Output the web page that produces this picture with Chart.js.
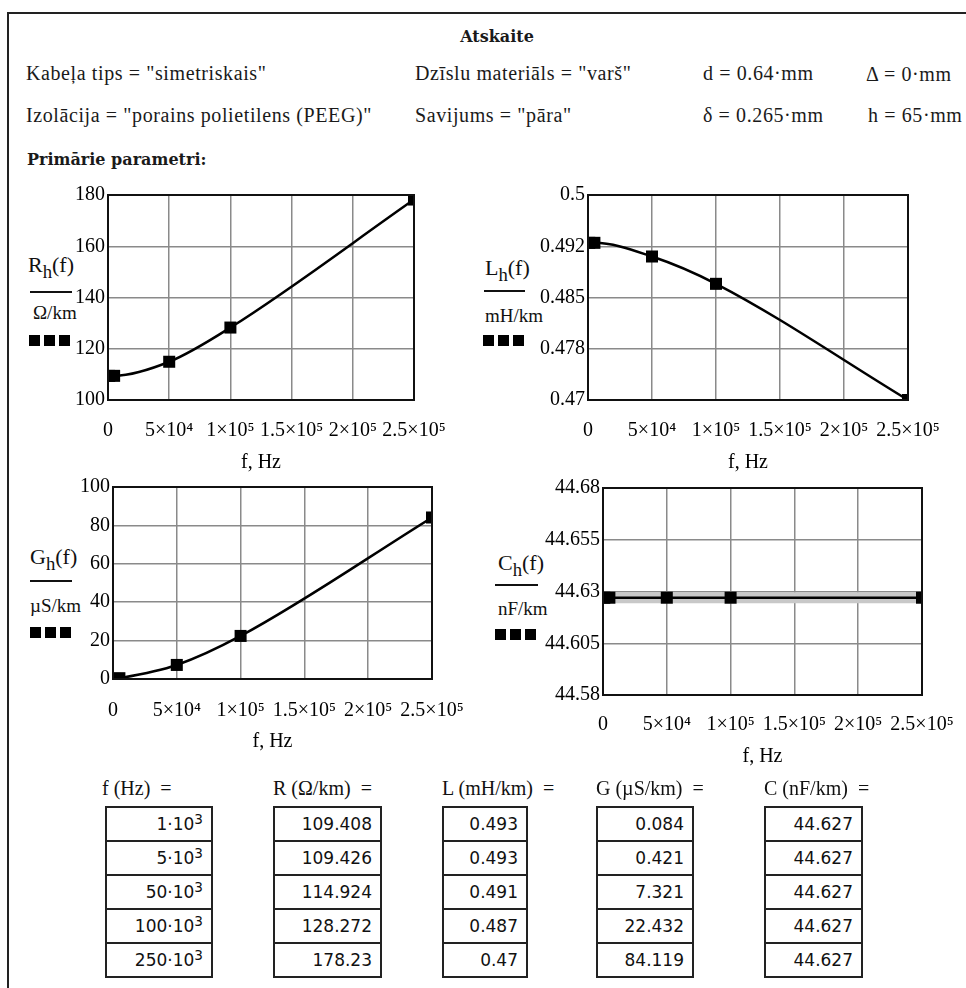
<!DOCTYPE html>
<html>
<head>
<meta charset="utf-8">
<script src="https://cdn.jsdelivr.net/npm/chart.js@4.4.1/dist/chart.umd.min.js"></script>
<style>
html, body { margin: 0; padding: 0; background: #fff; }
body { width: 966px; height: 988px; position: relative; overflow: hidden; }
.abs { position: absolute; white-space: nowrap; }
.line { position: absolute; background: #222; }
.txt { font-family: 'Liberation Serif'; font-size: 20px; letter-spacing: 0.6px; color: #1a1a1a; line-height: 1; transform: translateY(-50%); }
.bold { font-family: 'DejaVu Serif', 'Liberation Serif'; font-weight: bold; font-size: 16px; letter-spacing: 0; }
.yl { font-family: 'Liberation Serif'; font-size: 22px; color: #111; line-height: 1; transform: translateY(-50%); }
.yl sub { font-size: 0.85em; vertical-align: -0.3em; line-height: 0; }
.yu { font-family: 'Liberation Serif'; font-size: 19px; color: #111; line-height: 1; transform: translateY(-50%); }
.bar { position: absolute; height: 2px; background: #111; }
.sq { position: absolute; display: flex; gap: 4px; }
.sq i { display: block; width: 11px; height: 11px; background: #000; }
.th { font-family: 'Liberation Serif'; font-size: 20px; color: #111; line-height: 1; transform: translateY(-50%); }
.col { position: absolute; border: 2px solid #222; border-bottom: none; box-sizing: border-box; }
.cell { height: 34px; box-sizing: border-box; border-bottom: 2px solid #222; text-align: right; padding-right: 8px;
        font-family: 'DejaVu Sans'; font-size: 17px; line-height: 32px; color: #111; }
.cell sup { font-size: 0.8em; vertical-align: 0.45em; line-height: 0; }
</style>
</head>
<body>
<div class="line" style="left:7px;top:12px;width:2px;height:976px"></div>
<div class="line" style="left:7px;top:12px;width:959px;height:2px"></div>

<div class="abs txt bold" style="left:497px;top:37px;transform:translate(-50%,-50%)">Atskaite</div>
<div class="abs txt" style="left:26px;top:73px">Kabeļa tips = "simetriskais"</div>
<div class="abs txt" style="left:415px;top:73px">Dzīslu materiāls = "varš"</div>
<div class="abs txt" style="left:703px;top:73px">d = 0.64·mm</div>
<div class="abs txt" style="left:866px;top:74px">Δ = 0·mm</div>
<div class="abs txt" style="left:26px;top:115px">Izolācija = "porains polietilens (PEEG)"</div>
<div class="abs txt" style="left:415px;top:115px">Savijums = "pāra"</div>
<div class="abs txt" style="left:703px;top:115px">δ = 0.265·mm</div>
<div class="abs txt" style="left:868px;top:115px">h = 65·mm</div>
<div class="abs txt bold" style="left:27px;top:160px">Primārie parametri:</div>

<div class="abs yl" style="left:28px;top:265px">R<sub>h</sub>(f)</div>
<div class="bar" style="left:30px;top:291px;width:42px"></div>
<div class="abs yu" style="left:33px;top:312px">Ω/km</div>
<div class="sq" style="left:29px;top:335px"><i></i><i></i><i></i></div>

<div class="abs yl" style="left:485px;top:268px">L<sub>h</sub>(f)</div>
<div class="bar" style="left:484px;top:290px;width:41px"></div>
<div class="abs yu" style="left:485px;top:315px">mH/km</div>
<div class="sq" style="left:483px;top:335px"><i></i><i></i><i></i></div>

<div class="abs yl" style="left:30px;top:557px">G<sub>h</sub>(f)</div>
<div class="bar" style="left:30px;top:580px;width:42px"></div>
<div class="abs yu" style="left:30px;top:605px">µS/km</div>
<div class="sq" style="left:30px;top:627px"><i></i><i></i><i></i></div>

<div class="abs yl" style="left:498px;top:563px">C<sub>h</sub>(f)</div>
<div class="bar" style="left:495px;top:584px;width:43px"></div>
<div class="abs yu" style="left:498px;top:608px">nF/km</div>
<div class="sq" style="left:495px;top:629px"><i></i><i></i><i></i></div>

<script>
// table points (Hz) and the primary parameters read at them
const freq = [1e3, 5e3, 50e3, 100e3, 250e3];
const resistance = [109.408, 109.426, 114.924, 128.272, 178.23];
const inductance = [0.493, 0.493, 0.491, 0.487, 0.47];
const conductance = [0.084, 0.421, 7.321, 22.432, 84.119];
const capacitance = [44.627, 44.627, 44.627, 44.627, 44.627];

const xTicks = [0, 50000, 100000, 150000, 200000, 250000];
const xTickLabels = ['0', '5×10⁴', '1×10⁵', '1.5×10⁵', '2×10⁵', '2.5×10⁵'];
const rTicks = [100, 120, 140, 160, 180];
const rTickLabels = ['100', '120', '140', '160', '180'];
const lTicks = [0.47, 0.4775, 0.485, 0.4925, 0.5];
const lTickLabels = ['0.47', '0.478', '0.485', '0.492', '0.5'];
const gTicks = [0, 20, 40, 60, 80, 100];
const gTickLabels = ['0', '20', '40', '60', '80', '100'];
const cTicks = [44.58, 44.605, 44.63, 44.655, 44.68];
const cTickLabels = ['44.58', '44.605', '44.63', '44.655', '44.68'];

const tableHeads = ['f (Hz)', 'R (Ω/km)', 'L (mH/km)', 'G (µS/km)', 'C (nF/km)'];

Chart.defaults.font.family = 'Liberation Serif';
Chart.defaults.font.size = 20;
Chart.defaults.color = '#000';

const PADL = 70, PADT = 15, PADR = 70, AXH = 80;

// black box round the plot area
const frame = {
    id: 'frame',
    afterDatasetsDraw(chart) {
        const { ctx, chartArea: a } = chart;
        ctx.save();
        ctx.strokeStyle = '#111';
        ctx.lineWidth = 2;
        ctx.strokeRect(a.left, a.top, a.right - a.left, a.bottom - a.top);
        ctx.restore();
    }
};

function makeChart(box, values, yTicks, yLabels, band) {
    const cv = document.createElement('canvas');
    const w = box.r - box.l + PADL + PADR;
    const h = box.b - box.t + PADT + AXH;
    cv.width = w;
    cv.height = h;
    cv.style.cssText = `position:absolute;left:${box.l - PADL}px;top:${box.t - PADT}px;width:${w}px;height:${h}px`;
    document.body.appendChild(cv);

    const pts = freq.map((f, i) => ({ x: f, y: values[i] }));
    const datasets = [{
        data: pts,
        borderColor: '#000',
        borderWidth: 2.5,
        pointStyle: 'rect',
        pointRadius: 8.5,
        pointBorderWidth: 0,
        pointBackgroundColor: '#000',
        cubicInterpolationMode: 'monotone',
        clip: 0,
        order: 1
    }];
    if (band) {
        datasets.push({ data: pts, borderColor: '#c8c8c8', borderWidth: 11, pointRadius: 0, clip: 0, order: 2 });
    }

    new Chart(cv, {
        type: 'line',
        data: { datasets },
        options: {
            responsive: false,
            animation: false,
            events: [],
            layout: { padding: { left: 0, top: PADT, right: PADR, bottom: 0 } },
            plugins: { legend: { display: false }, tooltip: { enabled: false } },
            scales: {
                x: {
                    type: 'linear',
                    min: 0,
                    max: 250000,
                    afterBuildTicks: s => { s.ticks = xTicks.map(v => ({ value: v })); },
                    afterFit: s => { s.height = AXH; },
                    grid: { color: '#8a8a8a', lineWidth: 1.5, drawTicks: false },
                    border: { display: false },
                    ticks: { autoSkip: false, maxRotation: 0, padding: box.tickPad, callback: (v, i) => xTickLabels[i] },
                    title: { display: true, text: 'f, Hz', padding: { top: 0, bottom: box.titlePad } }
                },
                y: {
                    type: 'linear',
                    min: yTicks[0],
                    max: yTicks[yTicks.length - 1],
                    afterBuildTicks: s => { s.ticks = yTicks.map(v => ({ value: v })); },
                    afterFit: s => { s.width = PADL; },
                    grid: { color: '#8a8a8a', lineWidth: 1.5, drawTicks: false },
                    border: { display: false },
                    ticks: { padding: 3, callback: (v, i) => yLabels[i] }
                }
            }
        },
        plugins: [frame]
    });
}

makeChart({ l: 108, t: 195, r: 414, b: 400, tickPad: 19, titlePad: 5 }, resistance, rTicks, rTickLabels, false);
makeChart({ l: 588, t: 195, r: 908, b: 400, tickPad: 19, titlePad: 5 }, inductance, lTicks, lTickLabels, false);
makeChart({ l: 113, t: 487, r: 432, b: 679, tickPad: 20, titlePad: 5 }, conductance, gTicks, gTickLabels, false);
makeChart({ l: 603, t: 488, r: 922, b: 695, tickPad: 18, titlePad: 6 }, capacitance, cTicks, cTickLabels, true);

// value tables under the plots
const colLeft = [105, 273, 442, 596, 764];
const colWidth = [108, 109, 86, 98, 99];
const columns = [
    freq.map(f => (f / 1000) + '·10<sup>3</sup>'),
    resistance.map(String),
    inductance.map(String),
    conductance.map(String),
    capacitance.map(String)
];

columns.forEach((cells, c) => {
    const head = document.createElement('div');
    head.className = 'abs th';
    head.style.left = (c === 0 ? 102 : colLeft[c]) + 'px';
    head.style.top = '788px';
    head.innerHTML = tableHeads[c] + '&nbsp; =';
    document.body.appendChild(head);

    const col = document.createElement('div');
    col.className = 'col';
    col.style.left = colLeft[c] + 'px';
    col.style.top = '806px';
    col.style.width = colWidth[c] + 'px';
    col.innerHTML = cells.map(t => `<div class="cell">${t}</div>`).join('');
    document.body.appendChild(col);
});
</script>
</body>
</html>
